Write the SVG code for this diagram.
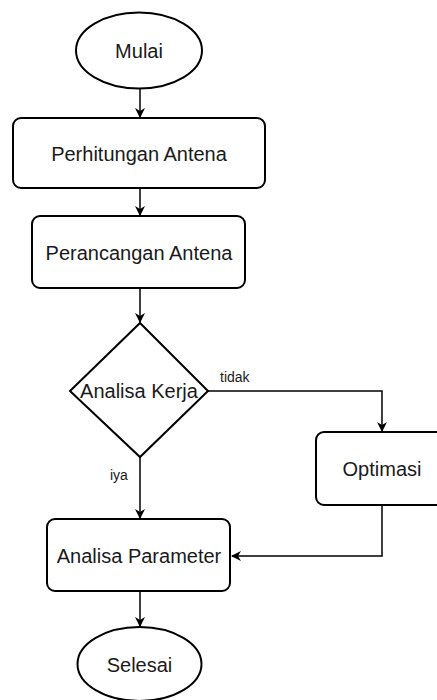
<svg xmlns="http://www.w3.org/2000/svg" width="437" height="700" viewBox="0 0 437 700">
<style>
.s{fill:#fff;stroke:#000;stroke-width:2}
.t{font-family:"Liberation Sans",Arial,sans-serif;font-size:20px;fill:#1a1a1a;text-anchor:middle;dominant-baseline:central}
.c{fill:none;stroke:#000;stroke-width:1.5}
.l{font-family:"Liberation Sans",Arial,sans-serif;font-size:14px;fill:#1a1a1a}
</style>
<defs>
<marker id="a" viewBox="0 0 10 10" refX="9" refY="5" markerWidth="10" markerHeight="10" markerUnits="userSpaceOnUse" orient="auto">
<path d="M0,0 L10,5 L0,10 L3,5 z" fill="#000"/>
</marker>
</defs>
<rect width="437" height="700" fill="#fff"/>
<g id="connectors">
<path class="c" d="M140,89 V117" marker-end="url(#a)"/>
<path class="c" d="M140,188 V215" marker-end="url(#a)"/>
<path class="c" d="M140,288 V322" marker-end="url(#a)"/>
<path class="c" d="M208,391 H382 V431" marker-end="url(#a)"/>
<path class="c" d="M140,457 V518" marker-end="url(#a)"/>
<path class="c" d="M382,505 V556 H232" marker-end="url(#a)"/>
<path class="c" d="M140,591 V626" marker-end="url(#a)"/>
<text class="l" x="220" y="382">tidak</text>
<text class="l" x="110" y="480">iya</text>
</g>
<g id="mulai"><ellipse class="s" cx="139" cy="50.5" rx="63" ry="38"/><text class="t" x="139" y="51">Mulai</text></g>
<g id="perhitungan"><rect class="s" x="13" y="118" width="252" height="70" rx="8"/><text class="t" x="139" y="154">Perhitungan Antena</text></g>
<g id="perancangan"><rect class="s" x="32" y="216" width="213" height="72" rx="8"/><text class="t" x="139" y="253">Perancangan Antena</text></g>
<g id="analisa-kerja"><polygon class="s" points="140,323 208,391 140,457 70,391"/><text class="t" x="139" y="391">Analisa Kerja</text></g>
<g id="optimasi"><rect class="s" x="316" y="432" width="132" height="73" rx="8"/><text class="t" x="382" y="469">Optimasi</text></g>
<g id="analisa-parameter"><rect class="s" x="47" y="519" width="183" height="72" rx="8"/><text class="t" x="139" y="556">Analisa Parameter</text></g>
<g id="selesai"><ellipse class="s" cx="139.5" cy="664" rx="62" ry="37"/><text class="t" x="139.5" y="665">Selesai</text></g>
</svg>
